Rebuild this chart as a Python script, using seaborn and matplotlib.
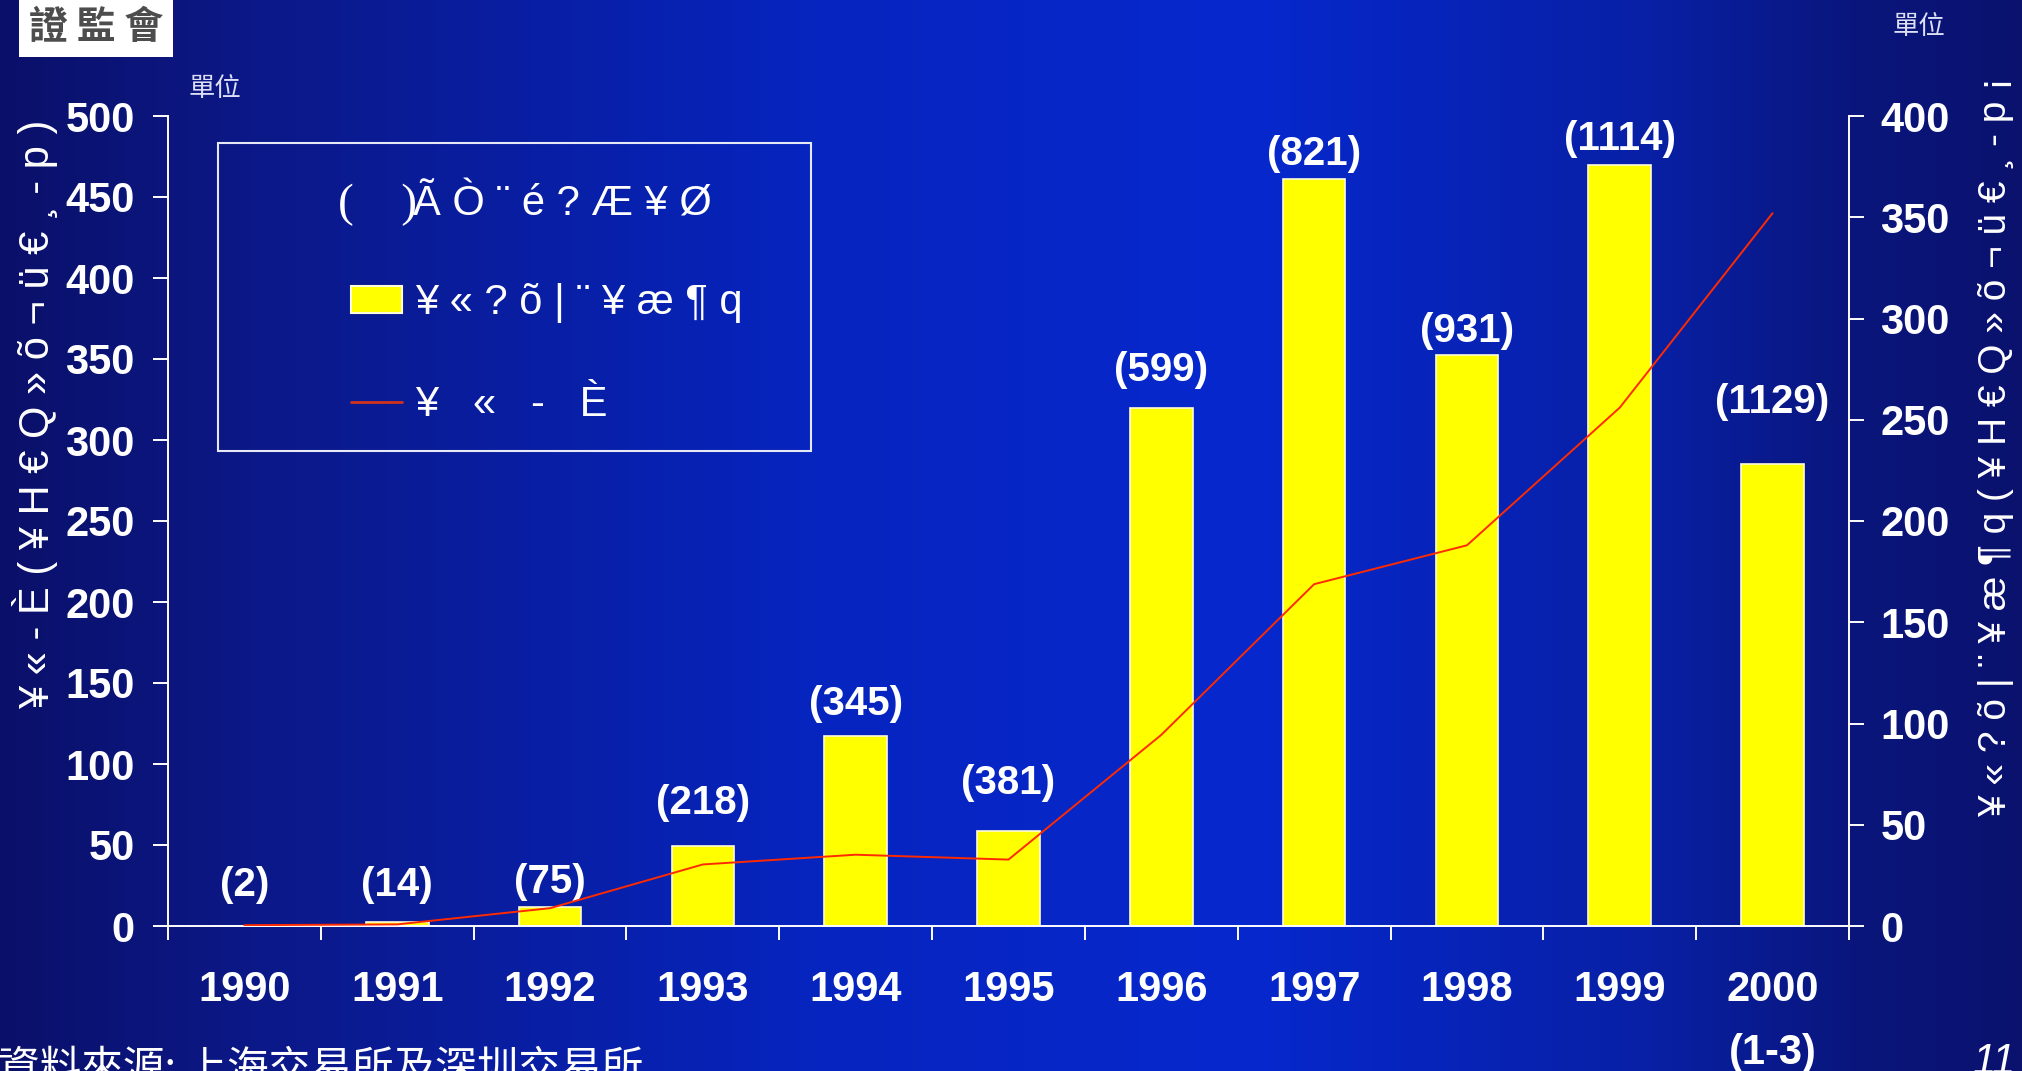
import numpy as np
import pandas as pd
import matplotlib
matplotlib.use("Agg")
import matplotlib.pyplot as plt
import seaborn as sns
from matplotlib.patches import Rectangle, Patch
from matplotlib.lines import Line2D

# ---------------- data ----------------
years = ["1990", "1991", "1992", "1993", "1994", "1995",
         "1996", "1997", "1998", "1999", "2000"]
year_labels = ["1990", "1991", "1992", "1993", "1994", "1995",
               "1996", "1997", "1998", "1999", "2000\n(1-3)"]
turnover = [0, 2, 9.5, 39.5, 94, 47, 256, 369, 282, 376, 228]        # bars, right axis
market_cap = [0.5, 1, 11, 38, 44, 41, 118, 211, 235, 320, 440]       # line, left axis
listed_counts = ["(2)", "(14)", "(75)", "(218)", "(345)", "(381)",
                 "(599)", "(821)", "(931)", "(1114)", "(1129)"]
count_label_y = [20.4, 20.4, 21.7, 60.5, 109.6, 70.7, 274.5, 381, 294, 388.5, 259]
left_ticks = list(range(0, 501, 50))
right_ticks = list(range(0, 401, 50))

bar_name = "¥«?õ|¨¥æ¶q"
line_name = "¥ « - È"
legend_title = "ÃÒ¨é?Æ¥Ø"
left_label = "¥«-È(¥H€Q»õ¬ü€¸-p)"
right_label = "¥«?õ|¨¥æ¶q(¥H€Q»õ¬ü€¸-p¡"
logo_text = "證監會"
unit_text = "單位"
source_text = "資料來源: 上海交易所及深圳交易所"


def tracked(s):
    """Wide letter tracking as in the original slide."""
    return " ".join(s)


# ---------------- style ----------------
sns.set_style("ticks")
plt.rcParams["font.family"] = ["Liberation Sans", "Noto Sans CJK TC", "DejaVu Sans"]
CJK = ["Noto Sans CJK TC", "DejaVu Sans"]

W, H = 2022, 1071
fig = plt.figure(figsize=(W / 100, H / 100), dpi=100)

# background gradient
bg = fig.add_axes([0, 0, 1, 1], zorder=0)
nodes_x = [0, 250, 800, 1250, 1650, 1850, 2022]
nodes_c = np.array([(10, 16, 105), (12, 24, 135), (6, 36, 190), (6, 40, 205),
                    (8, 32, 165), (10, 22, 125), (10, 18, 110)]) / 255.0
xs = np.arange(W)
grad = np.stack([np.interp(xs, nodes_x, nodes_c[:, i]) for i in range(3)], axis=-1)[None, :, :]
bg.imshow(grad, aspect="auto", extent=[0, 1, 0, 1])
bg.axis("off")

ax = fig.add_axes([168 / W, 1 - 926 / H, (1849 - 168) / W, (926 - 116) / H], zorder=1)
ax.patch.set_alpha(0)

df = pd.DataFrame({"year": years, "turnover": turnover, "cap": market_cap,
                   "pos": np.arange(len(years))})

sns.barplot(data=df, x="year", y="turnover", ax=ax, color="#ffff00",
            saturation=1, width=0.41, edgecolor="#fffbd8", linewidth=1.2)
ax2 = ax.twinx()
ax2.patch.set_visible(False)
sns.lineplot(data=df, x="pos", y="cap", ax=ax2, color="#ff2a00", linewidth=1.4)

ax.set_xlim(-0.5, len(years) - 0.5)
ax.set_ylim(0, 400)
ax2.set_ylim(0, 500)
for a in (ax, ax2):
    a.set_xlabel("")
    a.set_ylabel("")

# axes: bars -> right axis, line -> left axis
ax.yaxis.tick_right()
ax.set_yticks(right_ticks)
ax2.yaxis.tick_left()
ax2.set_yticks(left_ticks)

tickfont = dict(fontsize=30, fontweight="bold", color="white")
ax.set_yticklabels([str(t) for t in right_ticks], **tickfont)
ax2.set_yticklabels([str(t) for t in left_ticks], **tickfont)
ax.tick_params(axis="y", direction="out", length=10.5, width=1.4, colors="white", pad=12)
ax2.tick_params(axis="y", direction="out", length=10.5, width=1.4, colors="white", pad=13.5)

ax.set_xticks(range(len(years)))
ax.set_xticklabels(year_labels, **tickfont)
ax.tick_params(axis="x", which="major", length=0, pad=32, colors="white")
ax.set_xticks(np.arange(-0.5, len(years), 1), minor=True)
ax.tick_params(axis="x", which="minor", direction="out", length=10, width=1.4, color="white")
for lbl in ax.get_xticklabels():
    lbl.set_linespacing(1.72)

for s in ["top", "left"]:
    ax.spines[s].set_visible(False)
for s in ["top", "right", "bottom"]:
    ax2.spines[s].set_visible(False)
ax.spines["bottom"].set_color("white")
ax.spines["right"].set_color("white")
ax2.spines["left"].set_color("white")
for sp in (ax.spines["bottom"], ax.spines["right"], ax2.spines["left"]):
    sp.set_linewidth(1.4)

# count labels
for i, (txt, yy) in enumerate(zip(listed_counts, count_label_y)):
    ax.text(i, yy, txt, ha="center", va="center", fontsize=29,
            fontweight="bold", color="white", zorder=5)

# axis titles
fig.text(35 / W, 1 - 414 / H, tracked(left_label), rotation=90, ha="center",
         va="center", fontsize=30, color="white")
fig.text(1996 / W, 1 - 447 / H, tracked(right_label), rotation=90, ha="center",
         va="center", fontsize=28, color="white")

# legend
fig.add_artist(Rectangle((218 / W, 1 - 451 / H), (811 - 218) / W, (451 - 143) / H,
                         transform=fig.transFigure, fill=False,
                         edgecolor="#e6e8f5", linewidth=1.5))
fig.text(338 / W, 1 - 216 / H, "(    )", family=["Liberation Serif", "DejaVu Serif"],
         fontsize=34, color="white", va="baseline", ha="left")
fig.text(413 / W, 1 - 216 / H, tracked(legend_title), fontsize=30, color="white",
         va="baseline", ha="left")
handles = [Patch(facecolor="#ffff00", edgecolor="#fffbd8", linewidth=1.5),
           Line2D([], [], color="#d0321e", linewidth=2)]
fig.legend(handles=handles, labels=[tracked(bar_name), tracked(line_name)],
           loc="upper left", bbox_to_anchor=(351 / W, 1 - 283 / H), frameon=False,
           fontsize=30, labelcolor="white", handlelength=1.22, handleheight=0.62,
           handletextpad=0.31, labelspacing=1.5, borderpad=0, borderaxespad=0)

# logo
fig.add_artist(Rectangle((19 / W, 1 - 57 / H), (173 - 19) / W, 57 / H,
                         transform=fig.transFigure, facecolor="white",
                         edgecolor="none"))
fig.text(96 / W, 1 - 28 / H, tracked(logo_text), family=CJK, fontsize=28,
         fontweight="bold", color="#4d4d4d", ha="center", va="center")

# unit marks
fig.text(188 / W, 1 - 88 / H, unit_text, family=CJK, fontsize=19, fontweight="light",
         color="#dde0f5", ha="left", va="center")
fig.text(1892 / W, 1 - 26 / H, unit_text, family=CJK, fontsize=19, fontweight="light",
         color="#dde0f5", ha="left", va="center")

# source and page number
fig.text(-2 / W, 1 - 1070 / H, source_text, family=CJK, fontsize=30,
         fontweight="light", color="white", ha="left", va="center")
fig.text(1973 / W, 1 - 1042 / H, "11", fontsize=30, style="italic",
         color="white", ha="left", va="top")

fig.savefig("out.png", dpi=100)
